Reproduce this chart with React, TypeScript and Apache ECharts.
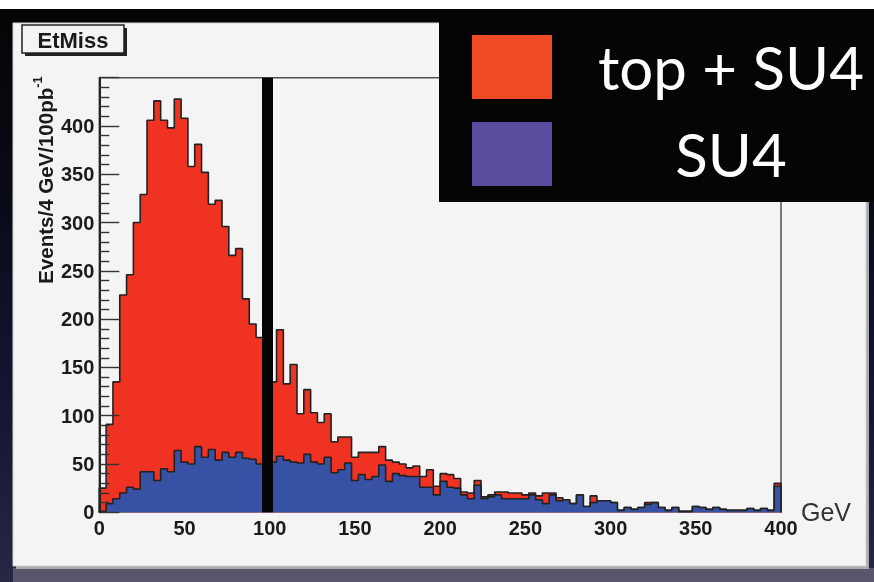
import React, { useEffect, useRef } from 'react';
import * as echarts from 'echarts';

// ---------- data ----------
const BIN_WIDTH = 4; // GeV per bin
const X_MIN = 0;
const X_MAX = 400;
const X_STEP = 50;
const Y_MIN = 0;
const Y_MAX = 450;
const Y_STEP = 50;
const CUT_GEV = 98.5;

const seriesNames = ['top + SU4', 'SU4'];
const histTitle = 'EtMiss';
const yTitleMain = 'Events/4 GeV/100pb';
const yTitleSup = '-1';
const xUnit = 'GeV';

// stacked total (top + SU4), events per 4 GeV bin, 0..400 GeV
const topPlusSU4 = [
  25, 91, 135, 225, 246, 300, 329, 406, 426, 406,
  398, 428, 408, 358, 381, 352, 319, 323, 296, 266,
  273, 221, 195, 181, 165, 135, 189, 133, 153, 102,
  127, 103, 93, 102, 73, 78, 78, 57, 62, 62,
  62, 68, 54, 52, 50, 46, 48, 37, 44, 27,
  40, 39, 35, 21, 20, 33, 16, 18, 21, 21,
  20, 20, 18, 20, 17, 20, 20, 15, 13, 9,
  18, 6, 17, 12, 12, 10, 2, 5, 3, 5,
  10, 10, 5, 2, 5, 1, 1, 6, 5, 3,
  5, 3, 2, 2, 2, 4, 2, 4, 2, 30,
];

// SU4 only
const su4 = [
  1, 9, 14, 20, 26, 24, 42, 42, 33, 45,
  42, 64, 52, 50, 68, 57, 65, 54, 62, 57,
  62, 56, 55, 50, 50, 52, 58, 54, 52, 51,
  60, 52, 50, 57, 41, 44, 51, 33, 39, 34,
  37, 49, 32, 40, 38, 37, 37, 26, 26, 18,
  32, 26, 25, 18, 14, 28, 14, 16, 18, 14,
  14, 14, 14, 18, 13, 9, 18, 12, 13, 9,
  18, 6, 10, 12, 12, 10, 2, 5, 3, 5,
  8, 10, 5, 2, 5, 1, 1, 6, 5, 3,
  5, 3, 2, 2, 2, 4, 2, 4, 2, 27,
];

// ---------- styles ----------
const FONT = '"Liberation Sans", Arial, Helvetica, sans-serif';
const LEGEND_FONT = 'Lato, "Open Sans", sans-serif';
const RED_FILL = '#f03223';
const BLUE_FILL = '#3752a5';
const RED_KEY = '#f04a24';
const BLUE_KEY = '#574c9e';
const OUTLINE = '#222222';

function toSteps(values: number[]): [number, number][] {
  const pts: [number, number][] = [[X_MIN, 0]];
  values.forEach((v, i) => pts.push([X_MIN + i * BIN_WIDTH, v]));
  const end = X_MIN + values.length * BIN_WIDTH;
  pts.push([end, values[values.length - 1]]);
  pts.push([end, 0]);
  return pts;
}

export default function App() {
  const ref = useRef<HTMLDivElement>(null);

  useEffect(() => {
    if (!ref.current) return;
    const chart = echarts.init(ref.current, null, { renderer: 'svg' });

    const histSeries = (name: string, values: number[], fill: string, extra: any = {}) => ({
      name,
      type: 'line',
      step: 'end',
      data: toSteps(values),
      showSymbol: false,
      symbol: 'none',
      silent: true,
      lineStyle: { color: OUTLINE, width: 1.6 },
      itemStyle: { color: fill },
      areaStyle: { color: fill, opacity: 1 },
      emphasis: { disabled: true },
      ...extra,
    });

    chart.setOption({
      animation: false,
      backgroundColor: 'transparent',
      graphic: [
        // page background
        {
          type: 'rect', z: -10, silent: true,
          shape: { x: 0, y: 0, width: 874, height: 582 },
          style: {
            fill: new echarts.graphic.LinearGradient(0, 0, 0, 1, [
              { offset: 0, color: '#040405' },
              { offset: 0.35, color: '#0a0b18' },
              { offset: 0.7, color: '#141634' },
              { offset: 1, color: '#252745' },
            ]),
          },
        },
        { type: 'rect', z: -9, silent: true, shape: { x: 0, y: 0, width: 874, height: 9 }, style: { fill: '#ffffff' } },
        { type: 'rect', z: -9, silent: true, shape: { x: 13, y: 568, width: 861, height: 14 }, style: { fill: '#59556c' } },
        // canvas pad with shadow
        { type: 'rect', z: -8, silent: true, shape: { x: 16, y: 26, width: 853, height: 543 }, style: { fill: '#a9a9b0' } },
        { type: 'rect', z: -7, silent: true, shape: { x: 13, y: 23, width: 853, height: 543 }, style: { fill: '#f4f4f4', stroke: '#d4d4d4', lineWidth: 1 } },
        // title box
        { type: 'rect', z: 1, silent: true, shape: { x: 25, y: 28, width: 102, height: 28 }, style: { fill: '#222' } },
        { type: 'rect', z: 1, silent: true, shape: { x: 22, y: 25, width: 102, height: 28 }, style: { fill: '#f4f4f4', stroke: '#222', lineWidth: 1.5 } },
        {
          type: 'text', z: 2, silent: true, x: 73, y: 40,
          style: { text: histTitle, font: `bold 22px ${FONT}`, fill: '#1a1a1a', align: 'center', verticalAlign: 'middle' },
        },
        // y-axis title
        {
          type: 'text', z: 2, silent: true, x: 45, y: 180, rotation: Math.PI / 2,
          style: {
            text: `{m|${yTitleMain}}{s|${yTitleSup}}`,
            align: 'center', verticalAlign: 'middle',
            rich: {
              m: { fontFamily: FONT, fontWeight: 'bold', fontSize: 20.5, lineHeight: 28, fill: '#1a1a1a', color: '#1a1a1a' },
              s: { fontFamily: FONT, fontWeight: 'bold', fontSize: 13, verticalAlign: 'top', fill: '#1a1a1a', color: '#1a1a1a' },
            },
          },
        },
        // legend panel
        { type: 'rect', z: 5, silent: true, shape: { x: 439, y: 9, width: 435, height: 193 }, style: { fill: '#050505' } },
      ],
      legend: {
        z: 6,
        orient: 'vertical',
        left: 472,
        top: 35,
        padding: 0,
        itemWidth: 80,
        itemHeight: 64,
        itemGap: 23,
        selectedMode: false,
        icon: 'rect',
        itemStyle: { borderWidth: 0 },
        data: [
          { name: seriesNames[0], icon: 'rect', itemStyle: { color: RED_KEY, borderWidth: 0 } },
          { name: seriesNames[1], icon: 'rect', itemStyle: { color: BLUE_KEY, borderWidth: 0 } },
        ],
        formatter: (name: string) => `{c|${name}}`,
        textStyle: {
          color: '#ffffff',
          fontSize: 60,
          fontFamily: LEGEND_FONT,
          rich: {
            c: { width: 348, align: 'center', fontSize: 60, lineHeight: 62, fontFamily: LEGEND_FONT, color: '#ffffff' },
          },
        },
      },
      grid: {
        left: 99.3,
        right: 93,
        top: 77.7,
        bottom: 69.7,
        show: true,
        backgroundColor: 'transparent',
        borderColor: '#505050',
        borderWidth: 1.5,
        containLabel: false,
      },
      xAxis: {
        type: 'value',
        min: X_MIN,
        max: X_MAX,
        interval: X_STEP,
        name: xUnit,
        nameLocation: 'end',
        nameGap: 20,
        nameMoveOverlap: false,
        nameTextStyle: { fontFamily: FONT, fontSize: 25, color: '#333', padding: [54, 0, 0, 0], align: 'left' },
        axisLine: { show: true, lineStyle: { color: '#8a8a9a', width: 1 } },
        axisTick: { show: false },
        splitLine: { show: false },
        axisLabel: { fontFamily: FONT, fontWeight: 'bold', fontSize: 20, color: '#1a1a1a', margin: 6 },
      },
      yAxis: {
        type: 'value',
        min: Y_MIN,
        max: Y_MAX,
        interval: Y_STEP,
        z: 10,
        axisLine: { show: true, lineStyle: { color: '#222', width: 2 } },
        axisTick: { show: true, inside: true, length: 20, lineStyle: { color: '#333', width: 1.4 } },
        minorTick: { show: true, splitNumber: 5, length: 10, lineStyle: { color: '#333', width: 1.4 } },
        splitLine: { show: false },
        minorSplitLine: { show: false },
        axisLabel: {
          fontFamily: FONT, fontWeight: 'bold', fontSize: 20, color: '#1a1a1a', margin: 5,
          formatter: (v: number) => (v % Y_STEP === 0 && v < Y_MAX ? String(v) : ''),
        },
      },
      series: [
        histSeries(seriesNames[0], topPlusSU4, RED_FILL, { z: 2 }),
        histSeries(seriesNames[1], su4, BLUE_FILL, {
          z: 3,
          markLine: {
            silent: true,
            symbol: ['none', 'none'],
            label: { show: false },
            emphasis: { disabled: true },
            lineStyle: { color: '#050505', width: 11, type: 'solid' },
            data: [{ xAxis: CUT_GEV }],
          },
        }),
      ],
    });

    return () => chart.dispose();
  }, []);

  return (
    <div
      ref={ref}
      style={{ position: 'fixed', left: 0, top: 0, width: 874, height: 582 }}
    />
  );
}
